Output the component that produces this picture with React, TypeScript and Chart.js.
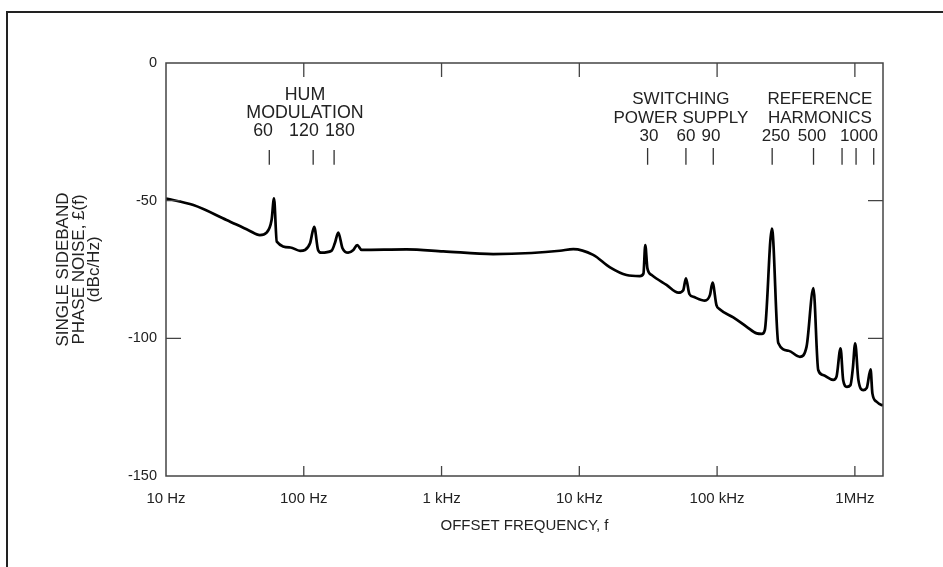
import React, { useEffect, useRef } from "react";
import { Chart, registerables } from "chart.js";

Chart.register(...registerables);

// ---- data ----
const freqHz = [
  10, 15.8, 27.5, 40, 48, 53.7, 58.4, 60.8, 63.7, 80, 94, 102, 111, 119, 127, 134,
  159, 168, 178, 191, 210, 229, 244, 263, 556, 1030, 2370, 4500, 7230, 9040, 12600,
  16700, 22000, 27500, 29200, 30100, 31200, 33500, 42900, 52400, 56800, 59400, 62900,
  67300, 81500, 88700, 92700, 98900, 105000, 131000, 164000, 194000, 211000, 222000,
  250000, 278000, 330000, 399000, 446000, 500000, 542000, 587000, 697000, 736000,
  787000, 822000, 875000, 929000, 966000, 1005000, 1060000, 1150000, 1220000, 1300000,
  1340000, 1435000, 1560000, 1600000,
];
const noiseDb = [
  -49.2, -51.6, -57, -60.8, -62.5, -61.6, -57, -49.2, -64.9, -67, -68.2, -67.9, -65.5,
  -59.5, -67.9, -68.9, -68.2, -65.5, -61.6, -67.3, -68.9, -67.9, -66.1, -67.9, -67.7,
  -68.4, -69.4, -69.0, -68.2, -67.6, -69.7, -74.2, -77, -77.4, -76.5, -66.1, -74.6, -77,
  -80.6, -83.4, -82.5, -78.2, -83.9, -84.9, -86.3, -84.3, -79.8, -87.9, -89.5, -92.4,
  -95.8, -98.2, -98.4, -97.0, -60.1, -101.7, -104.5, -106.7, -103, -81.8, -111.5, -113.3,
  -115.1, -113.9, -103.6, -115.1, -117.6, -117, -111, -101.8, -115.1, -118.8, -118,
  -111.3, -120, -123, -124.2, -124.3,
];

const xMin = 10;
const xMax = 1600000;
const yMin = -150;
const yMax = 0;
const xTickValues = [10, 100, 1000, 10000, 100000, 1000000];
const xTickLabels = ["10 Hz", "100 Hz", "1 kHz", "10 kHz", "100 kHz", "1MHz"];
const yTickValues = [0, -50, -100, -150];
const yTickLabels = ["0", "-50", "-100", "-150"];
const yTitleLines = ["SINGLE SIDEBAND", "PHASE NOISE, \u00A3(f)", "(dBc/Hz)"];
const xTitle = "OFFSET FREQUENCY, f";

// annotation groups
const humTitleLines = ["HUM", "MODULATION"];
const humTitleFreq = 102;
const humTitleDb = [-11.8, -18.3];
const humNumberLabels = ["60", "120", "180"];
const humNumberFreqs = [50.6, 100.3, 183];
const humNumberDb = -24.9;
const humMarkFreqs = [56.2, 117, 166];
const humMarkDb = [-31.6, -37.0];

const switchTitleLines = ["SWITCHING", "POWER SUPPLY"];
const switchTitleFreq = 54600;
const switchTitleDb = [-13.2, -20.1];
const switchNumberLabels = ["30", "60", "90"];
const switchNumberFreqs = [32000, 59400, 90200];
const switchNumberDb = -26.8;
const switchMarkFreqs = [31300, 59400, 93800];
const switchMarkDb = [-30.9, -37.0];

const refTitleLines = ["REFERENCE", "HARMONICS"];
const refTitleFreq = 557000;
const refTitleDb = [-13.2, -20.1];
const refNumberLabels = ["250", "500", "1000"];
const refNumberFreqs = [267000, 488000, 1070000];
const refNumberDb = -26.8;
const refMarkFreqs = [251000, 501000, 807000, 1020000, 1370000];
const refMarkDb = [-30.9, -37.0];

const FONT = "'Liberation Sans', Arial, Helvetica, sans-serif";
const TEXT = "#222";
const AXIS = "#444";

const groups = [
  { t: humTitleLines, tf: humTitleFreq, td: humTitleDb, n: humNumberLabels, nf: humNumberFreqs, nd: humNumberDb, mf: humMarkFreqs, md: humMarkDb, fs: 17.8 },
  { t: switchTitleLines, tf: switchTitleFreq, td: switchTitleDb, n: switchNumberLabels, nf: switchNumberFreqs, nd: switchNumberDb, mf: switchMarkFreqs, md: switchMarkDb, fs: 17 },
  { t: refTitleLines, tf: refTitleFreq, td: refTitleDb, n: refNumberLabels, nf: refNumberFreqs, nd: refNumberDb, mf: refMarkFreqs, md: refMarkDb, fs: 17 },
];

const framePlugin = {
  id: "frameAndNotes",
  afterDraw(chart: any) {
    const { ctx, chartArea: a, scales } = chart;
    const xs = scales.x;
    const ys = scales.y;
    ctx.save();
    ctx.strokeStyle = AXIS;
    ctx.lineWidth = 1.5;
    ctx.strokeRect(a.left, a.top, a.right - a.left, a.bottom - a.top);
    ctx.lineWidth = 1.3;
    ctx.beginPath();
    xTickValues.forEach((v) => {
      const x = xs.getPixelForValue(v);
      if (x <= a.left + 1 || x >= a.right - 1) return;
      ctx.moveTo(x, a.bottom);
      ctx.lineTo(x, a.bottom - 10);
      ctx.moveTo(x, a.top);
      ctx.lineTo(x, a.top + 14);
    });
    yTickValues.forEach((v) => {
      const y = ys.getPixelForValue(v);
      if (y <= a.top + 1 || y >= a.bottom - 1) return;
      ctx.moveTo(a.left, y);
      ctx.lineTo(a.left + 15, y);
      ctx.moveTo(a.right, y);
      ctx.lineTo(a.right - 15, y);
    });
    ctx.stroke();

    // annotations
    ctx.fillStyle = TEXT;
    ctx.textAlign = "center";
    ctx.textBaseline = "middle";
    groups.forEach((g) => {
      ctx.font = `${g.fs}px ${FONT}`;
      const tx = xs.getPixelForValue(g.tf);
      g.t.forEach((line, i) => ctx.fillText(line, tx, ys.getPixelForValue(g.td[i])));
      g.n.forEach((lab, i) => ctx.fillText(lab, xs.getPixelForValue(g.nf[i]), ys.getPixelForValue(g.nd)));
      ctx.beginPath();
      g.mf.forEach((f) => {
        const x = xs.getPixelForValue(f);
        ctx.moveTo(x, ys.getPixelForValue(g.md[0]));
        ctx.lineTo(x, ys.getPixelForValue(g.md[1]));
      });
      ctx.strokeStyle = "#333";
      ctx.lineWidth = 1.3;
      ctx.stroke();
    });
    ctx.restore();
  },
};

export default function App() {
  const ref = useRef<HTMLCanvasElement | null>(null);
  useEffect(() => {
    if (!ref.current) return;
    const chart = new Chart(ref.current, {
      type: "line",
      data: {
        datasets: [
          {
            data: freqHz.map((f, i) => ({ x: f, y: noiseDb[i] })),
            borderColor: "#000",
            borderWidth: 2.7,
            pointRadius: 0,
            fill: false,
            cubicInterpolationMode: "monotone",
          },
        ],
      },
      options: {
        animation: false,
        responsive: false,
        devicePixelRatio: 1,
        layout: { padding: { top: 63, right: 60, left: 0, bottom: 0 } },
        plugins: { legend: { display: false }, tooltip: { enabled: false } },
        scales: {
          x: {
            type: "logarithmic",
            min: xMin,
            max: xMax,
            grid: { display: false, drawTicks: false },
            border: { display: false },
            afterBuildTicks: (s: any) => {
              s.ticks = xTickValues.map((v) => ({ value: v }));
            },
            afterFit: (s: any) => {
              s.height = 91;
            },
            ticks: {
              autoSkip: false,
              maxRotation: 0,
              padding: 14,
              color: TEXT,
              font: { family: FONT, size: 15 },
              callback: (_v: any, i: number) => xTickLabels[i],
            },
            title: {
              display: true,
              text: xTitle,
              color: TEXT,
              font: { family: FONT, size: 15 },
              padding: { top: 0, bottom: 32 },
            },
          },
          y: {
            type: "linear",
            min: yMin,
            max: yMax,
            grid: { display: false, drawTicks: false },
            border: { display: false },
            afterBuildTicks: (s: any) => {
              s.ticks = yTickValues.map((v) => ({ value: v }));
            },
            afterFit: (s: any) => {
              s.width = 166;
            },
            ticks: {
              padding: 9,
              color: TEXT,
              font: { family: FONT, size: 14.5 },
              callback: (_v: any, i: number) => yTickLabels[i],
            },
            title: {
              display: true,
              text: yTitleLines,
              color: TEXT,
              font: { family: FONT, size: 17, lineHeight: 0.9 },
              padding: { top: 56, bottom: 0 },
            },
          },
        },
      },
      plugins: [framePlugin],
    } as any);
    return () => chart.destroy();
  }, []);

  return (
    <div style={{ position: "fixed", left: 0, top: 0, width: 943, height: 567, background: "#fff", overflow: "hidden" }}>
      <div
        style={{
          position: "absolute",
          left: 6,
          top: 11,
          width: 960,
          height: 600,
          borderTop: "2px solid #222",
          borderLeft: "2px solid #222",
          boxSizing: "border-box",
        }}
      />
      <canvas ref={ref} width={943} height={567} style={{ position: "absolute", left: 0, top: 0, width: 943, height: 567 }} />
    </div>
  );
}
